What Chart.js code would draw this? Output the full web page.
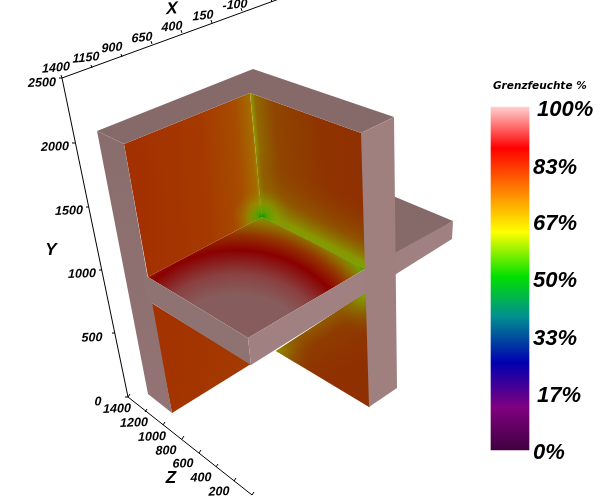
<!DOCTYPE html>
<html><head><meta charset="utf-8">
<style>html,body{margin:0;padding:0;background:#fff}canvas{display:block}</style>
<script src="https://cdn.jsdelivr.net/npm/chart.js@4"></script>
</head><body><canvas id="c" width="600" height="500"></canvas>
<script>
// Picture-plane outlines of the solid
const tailTop=[[393,196],[453,221],[393,257]];
const lowerRightWall=[[276,351],[372,288],[372,404],[369,407]];
const lowerLeftWall=[[150,302],[251,364],[172,413]];
const leftWall=[[124,144],[250,93],[262,217],[148,277]];
const rightWall=[[250,93],[361,133],[367,131],[368,267],[365,269],[262,217]];
const floorFace=[[148,277],[262,217],[365,269],[248,338]];
const leftStrip=[[97,131],[124,144],[152,302],[172,413],[148,394]];
const topFrame=[[97,131],[253,69],[394,117],[361,133],[250,93],[124,144]];
const plateLeftEdge=[[143,274],[248,338],[251,365],[147,300]];
const plateRightEdge=[[248,338],[365,269],[453,221],[452,239],[251,365]];
const rightStrip=[[361,133],[394,117],[397,388],[369,407]];
// Axes
const xTickBase=[[62,78],[92,68],[122,57],[152,44],[182,33],[212,23],[242,11],[272,2]];
const yTickBase=[[62,78],[75,143],[89,207],[102,270],[115,333],[128,397]];
const zTickBase=[[128,397],[145,412],[163,425],[182,439],[199,453],[216,467],[234,481],[252,495]];
const xTickLabels=['1400','1150','900','650','400','150','-100'];
const xLabelPos=[[56,68],[86,58],[112,48],[142,38],[172,27],[203,16],[235,5]];
const yTickLabels=['2500','2000','1500','1000','500','0'];
const yLabelPos=[[42,83],[55,147],[69,211],[82,274],[92,338],[98,402]];
const zTickLabels=['1400','1200','1000','800','600','400','200'];
const zLabelPos=[[117,409],[134,423],[152,437],[166,451],[183,464],[201,478],[219,492]];
const axisEnds=[[290,-5],[62,78],[128,397],[252,495]];
// Colour bar
const barRange=[0,100];
const barLabels=['100%','83%','67%','50%','33%','17%','0%'];
const barLabelPos=[[537,110],[533,168],[533,224],[533,281],[533,339],[537,396],[533,453]];
const barStops=[[0,'#400040'],[12.5,'#800080'],[25.5,'#0000b0'],[39,'#009090'],[50.5,'#00e000'],[63.5,'#ffff00'],[88,'#ff0000'],[100,'#ffd0d0']];

const P=a=>{const r=a.map(([x,y])=>({x,y}));r.push(r[0]);return r};
const cs=(g,stops)=>{stops.forEach(([o,c])=>g.addColorStop(o,c));return g};
function grad(kind,pts,stops){
  return ctx=>{
    const ch=ctx.chart; if(!ch.chartArea) return 'rgba(0,0,0,0)';
    const X=v=>ch.scales.x.getPixelForValue(v),Y=v=>ch.scales.y.getPixelForValue(v),c=ch.ctx;
    if(kind==='l') return cs(c.createLinearGradient(X(pts[0]),Y(pts[1]),X(pts[2]),Y(pts[3])),stops);
    return cs(c.createRadialGradient(X(pts[0]),Y(pts[1]),pts[2],X(pts[0]),Y(pts[1]),pts[3]),stops);
  };
}
const poly=(a,fill)=>({type:'scatter',data:P(a),showLine:true,fill:'shape',backgroundColor:fill,borderWidth:0,pointRadius:0,tension:0,xAxisID:'x',yAxisID:'y'});
const segs=[];
const seg=(a,b)=>{segs.push({x:a[0],y:a[1]},{x:b[0],y:b[1]},{x:NaN,y:NaN})};
seg(axisEnds[0],axisEnds[1]);seg(axisEnds[1],axisEnds[2]);seg(axisEnds[2],axisEnds[3]);
xTickBase.forEach(p=>seg(p,[p[0]-1,p[1]-3]));
yTickBase.forEach(p=>seg(p,[p[0]-3,p[1]]));
zTickBase.forEach(p=>seg(p,[p[0]+2,p[1]-3]));

const datasets=[
 poly(tailTop,'#866a6a'),
 poly(lowerRightWall,grad('l',[320,322,348,366],[[0,'#8f5a00'],[.3,'#8f3c00'],[1,'#8f3000']])),
 poly(lowerRightWall,grad('r',[365,293,0,42],[[0,'#80a800'],[.3,'rgba(135,140,0,.8)'],[1,'rgba(143,70,0,0)']])),
 poly(lowerRightWall,grad('r',[276,351,0,38],[[0,'#909000'],[.4,'rgba(145,110,0,.6)'],[1,'rgba(143,70,0,0)']])),
 poly(lowerLeftWall,grad('l',[152,340,250,350],[[0,'#a33200'],[1,'#a33a00']])),
 poly(leftWall,grad('l',[258,160,130,170],[[0,'#a09000'],[.03,'#a56a00'],[.15,'#a74c00'],[.45,'#a53800'],[1,'#a33000']])),
 poly(leftWall,grad('r',[262,217,0,30],[[0,'#109000'],[.15,'#50a000'],[.5,'rgba(140,165,0,.5)'],[1,'rgba(160,120,0,0)']])),
 poly(rightWall,grad('l',[256,155,366,145],[[0,'#909800'],[.04,'#906800'],[.2,'#8f4600'],[.6,'#8f3400'],[1,'#8f3000']])),
 poly(rightWall,grad('l',[313,243,340,189],[[0,'#80a000'],[.1,'#889600'],[.4,'rgba(143,100,0,.6)'],[1,'rgba(143,60,0,0)']])),
 poly(rightWall,grad('r',[262,217,0,30],[[0,'#109000'],[.15,'#50a000'],[.5,'rgba(130,160,0,.5)'],[1,'rgba(140,120,0,0)']])),
 poly(floorFace,grad('r',[237,379,70,172],[[0,'#875c5c'],[.15,'#875c5c'],[.35,'#8a4040'],[.58,'#8b0000'],[.72,'#943000'],[.86,'#8f7800'],[.93,'#70a000'],[1,'#109000']])),
 poly(leftStrip,grad('l',[110,130,160,400],[[0,'#896d6d'],[1,'#937373']])),
 poly(topFrame,'#866a6a'),
 poly(plateLeftEdge,'#8f7373'),
 poly(plateRightEdge,'#a08080'),
 poly(rightStrip,'#a07f7f'),
 {type:'scatter',data:segs,showLine:true,spanGaps:false,borderColor:'#000',borderWidth:1,pointRadius:0,fill:false,xAxisID:'x',yAxisID:'y'},
 {type:'bar',data:[{x:510,y:barRange}],barThickness:38,xAxisID:'x',yAxisID:'yBar',
  backgroundColor:ctx=>{
    const ch=ctx.chart;if(!ch.chartArea)return '#fff';const s=ch.scales.yBar;
    const g=ch.ctx.createLinearGradient(0,s.getPixelForValue(0),0,s.getPixelForValue(100));
    barStops.forEach(([v,c])=>g.addColorStop(v/100,c));return g;}}
];
datasets.forEach((d,i)=>{d.order=datasets.length-i});

function skewText(c,t,x,y,font,ky,kx){
  c.save();c.font=font;c.fillStyle='#000';c.textBaseline='middle';c.textAlign='center';
  c.setTransform(1,ky,kx,1,x,y);c.fillText(t,0,0);c.restore();
}
const labelPlugin={id:'labels',afterDraw(ch){
  const c=ch.ctx,X=v=>ch.scales.x.getPixelForValue(v),Y=v=>ch.scales.y.getPixelForValue(v);
  const f='italic bold 12.5px "Liberation Sans"';
  xTickLabels.forEach((t,i)=>skewText(c,t,X(xLabelPos[i][0]),Y(xLabelPos[i][1]),f,-.1,0));
  yTickLabels.forEach((t,i)=>skewText(c,t,X(yLabelPos[i][0]),Y(yLabelPos[i][1]),f,-.04,0));
  zTickLabels.forEach((t,i)=>skewText(c,t,X(zLabelPos[i][0]),Y(zLabelPos[i][1]),f,-.04,0));
  const T='italic bold 17px "Liberation Sans"';
  skewText(c,'X',172,9,T,-.1,0);skewText(c,'Y',51,250,T,0,0);skewText(c,'Z',171,478,T,0,0);
  c.save();c.fillStyle='#000';c.textBaseline='middle';c.textAlign='left';
  c.font='italic bold 10.5px "DejaVu Sans"';c.fillText('Grenzfeuchte %',493,86);
  c.font='italic bold 22px "Liberation Sans"';
  barLabels.forEach((t,i)=>c.fillText(t,X(barLabelPos[i][0]),Y(barLabelPos[i][1])));
  c.restore();
}};
new Chart(document.getElementById('c'),{
  data:{datasets},
  plugins:[labelPlugin],
  options:{responsive:false,animation:false,devicePixelRatio:1,
   layout:{padding:0},
   plugins:{legend:{display:false},tooltip:{enabled:false},title:{display:false}},
   scales:{
    x:{type:'linear',min:0,max:600,display:false,offset:false},
    y:{type:'linear',min:0,max:500,reverse:true,display:false},
    yBar:{type:'linear',min:-14.577,max:131.195,display:false}
   }}
});
</script></body></html>
